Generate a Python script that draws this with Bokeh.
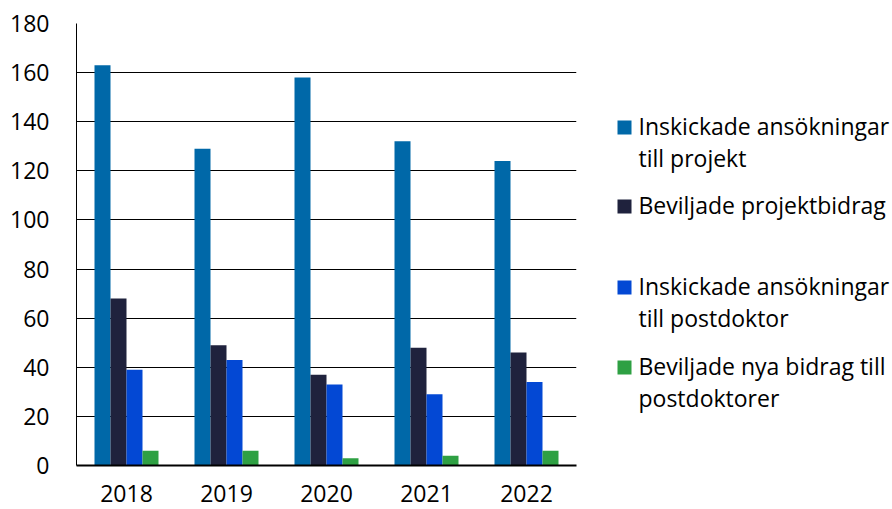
from bokeh.plotting import figure
from bokeh.models import FactorRange, Range1d, ColumnDataSource, FixedTicker
from bokeh.layouts import row
from bokeh.transform import dodge
from bokeh.core.properties import value
from bokeh.embed import file_html
from bokeh.resources import INLINE

# ---- data ----
years = ["2018", "2019", "2020", "2021", "2022"]
inskickade_projekt = [163, 129, 158, 132, 124]
beviljade_projekt = [68, 49, 37, 48, 46]
inskickade_postdoktor = [39, 43, 33, 29, 34]
beviljade_postdoktor = [6, 6, 3, 4, 6]
series_labels = [
    "Inskickade ansökningar\ntill projekt",
    "Beviljade projektbidrag",
    "Inskickade ansökningar\ntill postdoktor",
    "Beviljade nya bidrag till\npostdoktorer",
]
y_ticks = [0, 20, 40, 60, 80, 100, 120, 140, 160, 180]

# ---- styles ----
colors = ["#0068A8", "#1F223D", "#0348D4", "#2EA043"]
FONT = "Open Sans"
H = 508
TOP, BOTTOM = 23, 43

keys = ["s0", "s1", "s2", "s3"]
src = ColumnDataSource(dict(year=years, s0=inskickade_projekt, s1=beviljade_projekt,
                            s2=inskickade_postdoktor, s3=beviljade_postdoktor))

p = figure(x_range=FactorRange(*years), y_range=Range1d(0, 180), width=588, height=H,
           output_backend="svg", toolbar_location=None,
           min_border_left=76, min_border_right=12, min_border_top=TOP, min_border_bottom=BOTTOM)
offsets = [-0.24, -0.08, 0.08, 0.24]
for i, k in enumerate(keys):
    p.vbar(x=dodge("year", offsets[i], range=p.x_range), top=k, width=0.16,
           source=src, fill_color=colors[i], line_color=None)

p.outline_line_color = None
p.xgrid.visible = False
p.ygrid.ticker = FixedTicker(ticks=y_ticks)
p.ygrid.grid_line_color = "black"
p.ygrid.grid_line_width = 1
p.yaxis.ticker = FixedTicker(ticks=y_ticks)
for ax in (p.xaxis[0], p.yaxis[0]):
    ax.axis_line_color = "black"
    ax.major_tick_line_color = None
    ax.minor_tick_line_color = None
    ax.major_tick_out = 0
    ax.major_tick_in = 0
    ax.major_label_text_font = FONT
    ax.major_label_text_font_size = "23px"
    ax.major_label_text_color = "black"
p.xaxis.axis_line_width = 2
p.yaxis.major_label_standoff = 27
p.xaxis.major_label_standoff = 19
p.xaxis.major_label_text_line_height = 0.7

# ---- legend panel (its frame is aligned with the chart frame by row()) ----
LW = 304
leg = figure(width=LW, height=H, x_range=Range1d(0, LW), y_range=Range1d(H - BOTTOM, TOP),
             output_backend="svg", toolbar_location=None,
             min_border_left=0, min_border_right=0,
             min_border_top=TOP, min_border_bottom=BOTTOM)
leg.axis.visible = False
leg.grid.visible = False
leg.outline_line_color = None

first_centers = [127, 206, 287, 367]
line_gap = 32
text_lift = 2
sq_x, txt_x = 36, 50
tx, ty, tt = [], [], []
for i, lab in enumerate(series_labels):
    for j, line in enumerate(lab.split("\n")):
        tx.append(txt_x)
        ty.append(first_centers[i] + j * line_gap - text_lift)
        tt.append(line)
leg.text(x=tx, y=ty, text=tt, text_font=value(FONT), text_font_size="23px",
         text_baseline="middle", text_align="left", text_color="black")
leg.rect(x=[sq_x] * 4, y=first_centers, width=14, height=14,
         width_units="screen", height_units="screen", fill_color=colors, line_color=None)

layout = row(p, leg)
open("out.html", "w").write(file_html(layout, INLINE))
